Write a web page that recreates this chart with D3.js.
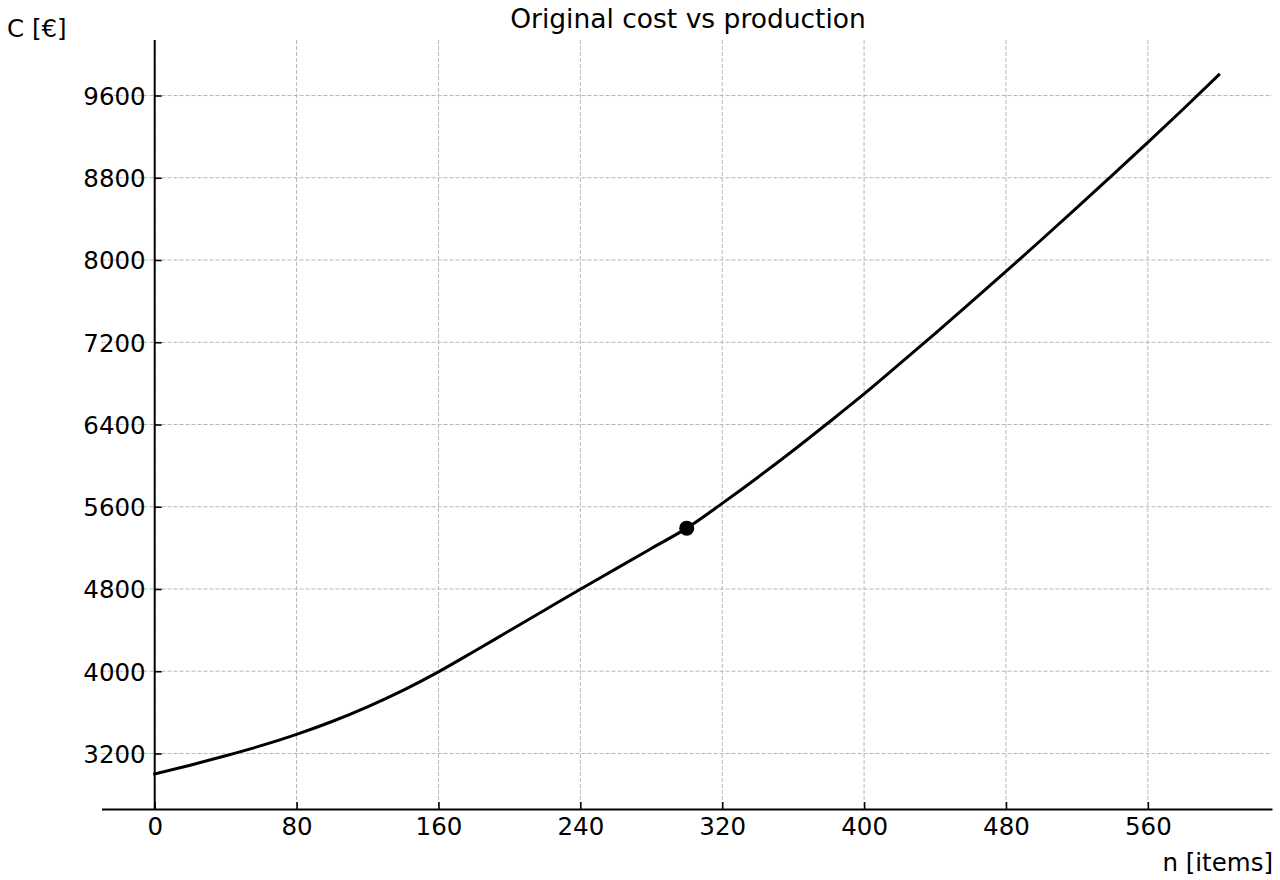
<!DOCTYPE html>
<html>
<head>
<meta charset="utf-8">
<script src="https://cdn.jsdelivr.net/npm/d3@7"></script>
<style>
    body { margin: 0; background: #ffffff; }
    text { font-family: "DejaVu Sans", sans-serif; fill: #000000; }
</style>
</head>
<body>
<div id="chart"></div>
<script>
// Items produced
var production = [0, 20, 40, 60, 80, 100, 120, 140, 160, 180, 200, 220, 240, 260, 280, 300,
                  320, 340, 360, 380, 400, 420, 440, 460, 480, 500, 520, 540, 560, 580, 600];
// Original cost for each production level
var cost = [3000, 3086, 3178, 3276, 3386, 3511, 3654, 3814, 3994, 4192, 4394, 4596, 4798, 4996, 5194, 5392,
            5633, 5885, 6147, 6419, 6697, 6989, 7285, 7585, 7889, 8197, 8509, 8825, 9145, 9469, 9800];
// Highlighted point
var markedPoint = [300, 5392];
// Tick values
var xTicks = [0, 80, 160, 240, 320, 400, 480, 560];
var yTicks = [3200, 4000, 4800, 5600, 6400, 7200, 8000, 8800, 9600];

/**
 * Cost chart module.
 */
var costChart = function () {

    var exports = {},
        svg = null,
        width = 1280,
        height = 880,
        // plot area in pixels
        left = 101.5,
        right = 1272,
        top = 40,
        bottom = 809,
        tickFont = 24.5,
        labelFont = 24.5,
        titleFont = 26.5,
        gridColour = '#b8b8b8';

    exports.draw = function () {

        var x = d3.scaleLinear().domain([-30, 630]).range([left, right]),
            y = d3.scaleLinear().domain([2660, 10140]).range([bottom, top]);

        svg = d3.select("#chart").append("svg")
            .attr("width", width)
            .attr("height", height);

        // grid lines
        svg.selectAll("line.vgrid")
            .data(xTicks)
            .enter().append("line")
            .attr("class", "vgrid")
            .attr("x1", function (d) { return x(d); })
            .attr("x2", function (d) { return x(d); })
            .attr("y1", top)
            .attr("y2", bottom)
            .style("stroke", gridColour)
            .style("stroke-width", 1)
            .style("stroke-dasharray", "4,2");

        svg.selectAll("line.hgrid")
            .data(yTicks)
            .enter().append("line")
            .attr("class", "hgrid")
            .attr("x1", left)
            .attr("x2", right)
            .attr("y1", function (d) { return y(d); })
            .attr("y2", function (d) { return y(d); })
            .style("stroke", gridColour)
            .style("stroke-width", 1)
            .style("stroke-dasharray", "4,2");

        // x axis along the bottom, ticks pointing in
        var xAxis = svg.append("g")
            .attr("transform", "translate(0," + bottom + ")")
            .call(d3.axisBottom(x).tickValues(xTicks).tickFormat(d3.format("d"))
                .tickSizeInner(-7).tickSizeOuter(0));

        // y axis at n = 0, ticks pointing in
        var yAxis = svg.append("g")
            .attr("transform", "translate(" + x(0) + ",0)")
            .call(d3.axisLeft(y).tickValues(yTicks).tickFormat(d3.format("d"))
                .tickSizeInner(-7).tickSizeOuter(0));

        yAxis.select(".domain").attr("d", "M0," + top + "V" + bottom);

        [xAxis, yAxis].forEach(function (a) {
            a.select(".domain").style("stroke", "#000").style("stroke-width", 2);
            a.selectAll(".tick line").style("stroke", "#000").style("stroke-width", 1.6);
            a.selectAll(".tick text")
                .style("font-family", "DejaVu Sans, sans-serif")
                .style("font-size", tickFont + "px")
                .style("fill", "#000");
        });
        xAxis.selectAll(".tick text").attr("dy", "0.71em").attr("y", 9);
        yAxis.selectAll(".tick text").attr("dy", "0.36em").attr("x", -9);

        // cost curve
        var line = d3.line()
            .x(function (d, i) { return x(production[i]); })
            .y(function (d) { return y(d); })
            .curve(d3.curveMonotoneX);

        svg.append("path")
            .datum(cost)
            .attr("d", line)
            .style("fill", "none")
            .style("stroke", "#000")
            .style("stroke-width", 3)
            .style("stroke-linecap", "square");

        svg.append("circle")
            .attr("cx", x(markedPoint[0]))
            .attr("cy", y(markedPoint[1]))
            .attr("r", 7.5)
            .style("fill", "#000");

        // labels
        svg.append("text")
            .attr("x", 688)
            .attr("y", 28)
            .attr("text-anchor", "middle")
            .style("font-size", titleFont + "px")
            .text("Original cost vs production");

        svg.append("text")
            .attr("x", 7)
            .attr("y", 37)
            .style("font-size", labelFont + "px")
            .text("C [€]");

        svg.append("text")
            .attr("x", right + 1)
            .attr("y", 871)
            .attr("text-anchor", "end")
            .style("font-size", labelFont + "px")
            .text("n [items]");

        return exports;
    };

    return exports;
};

costChart().draw();
</script>
</body>
</html>
